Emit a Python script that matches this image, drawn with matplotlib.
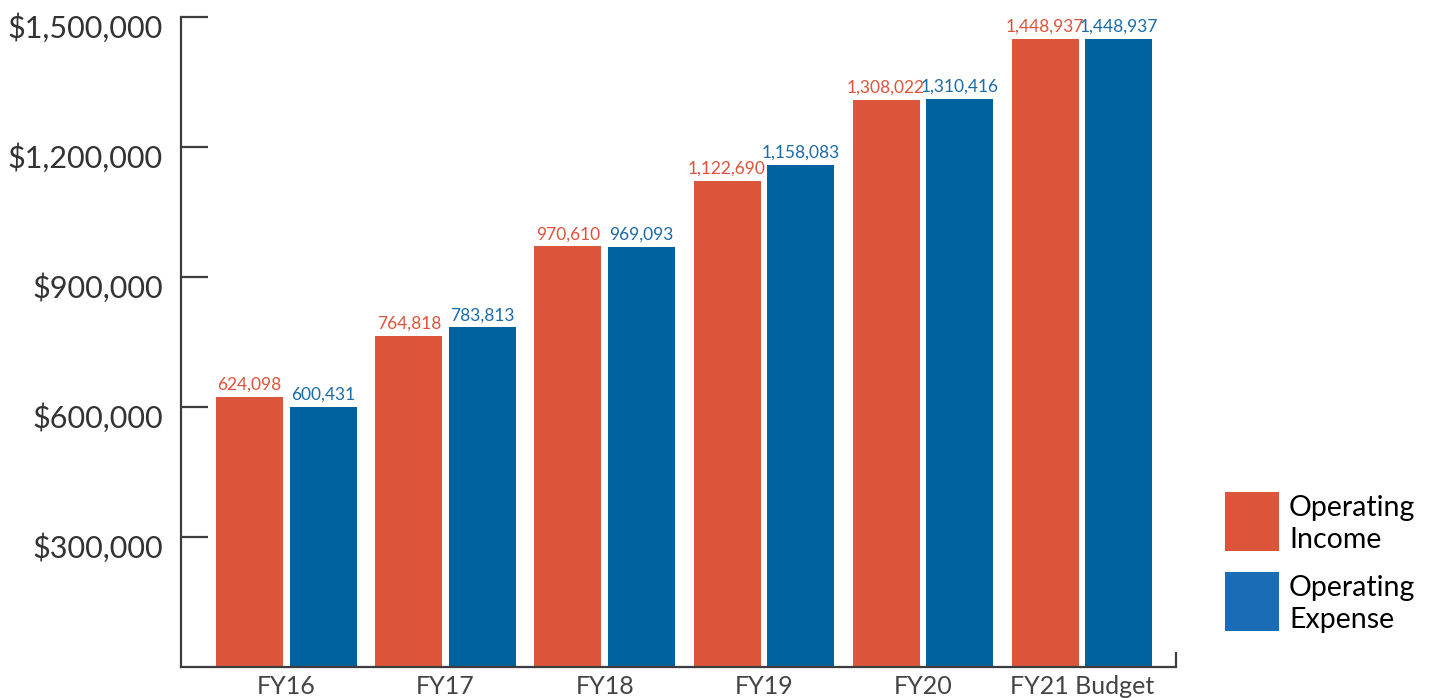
import matplotlib
matplotlib.use("Agg")
import matplotlib.pyplot as plt
from matplotlib.patches import Rectangle
from matplotlib.transforms import ScaledTranslation
import numpy as np

plt.rcParams['font.family'] = ['Lato', 'DejaVu Sans']

categories = ["FY16", "FY17", "FY18", "FY19", "FY20", "FY21 Budget"]
income = [624098, 764818, 970610, 1122690, 1308022, 1448937]
expense = [600431, 783813, 969093, 1158083, 1310416, 1448937]
ytick_values = [300000, 600000, 900000, 1200000, 1500000]
ytick_labels = ["$300,000", "$600,000", "$900,000", "$1,200,000", "$1,500,000"]
series_names = ["Operating\nIncome", "Operating\nExpense"]

ORANGE = "#DC553B"
BLUE = "#00629E"
LEGEND_BLUE = "#1A6CB6"
ORANGE_TXT = "#E0533A"
BLUE_TXT = "#1A6BA8"
AXIS = "#3d3d3d"

W, H = 1434, 698
fig = plt.figure(figsize=(W / 100, H / 100), dpi=100)
ax = fig.add_axes([181 / W, (H - 667) / H, (1176 - 181) / W, 650 / H])

x = np.arange(len(categories))
bw = 0.421
off = 0.231
ax.bar(x - off, income, width=bw, color=ORANGE, zorder=2)
ax.bar(x + off, expense, width=bw, color=BLUE, zorder=2)

for xi, v in zip(x, income):
    ax.annotate(f"{v:,}", (xi - off, v), xytext=(0, 3), textcoords="offset points",
                ha="center", va="bottom", fontsize=12.5, color=ORANGE_TXT)
for xi, v in zip(x, expense):
    ax.annotate(f"{v:,}", (xi + off, v), xytext=(0, 3), textcoords="offset points",
                ha="center", va="bottom", fontsize=12.5, color=BLUE_TXT)

ax.set_xlim(-0.663, 5.591)
ax.set_ylim(0, 1500000)

ax.set_yticks(ytick_values)
ax.set_yticklabels(ytick_labels)
ax.tick_params(axis="y", direction="in", length=19.5, width=1.6, color=AXIS,
               labelsize=22, labelcolor="#333333", pad=13)
# tick labels sit a little below their tick marks
shift = ScaledTranslation(0, -8 / 100, fig.dpi_scale_trans)
for lbl in ax.get_yticklabels():
    lbl.set_transform(lbl.get_transform() + shift)

ax.set_xticks(x)
ax.set_xticklabels(categories)
ax.tick_params(axis="x", length=0, labelsize=18, labelcolor="#444444", pad=6)

for side in ("top", "right"):
    ax.spines[side].set_visible(False)
for side in ("left", "bottom"):
    ax.spines[side].set_color(AXIS)
    ax.spines[side].set_linewidth(1.6)

# small closing tick at the right end of the baseline
ax.plot([1, 1], [0, 0.023], transform=ax.transAxes, color=AXIS, lw=1.6,
        clip_on=False, solid_capstyle="butt")

# legend
def fig_rect(x0, y0, x1, y1, color):
    fig.add_artist(Rectangle((x0 / W, (H - y1) / H), (x1 - x0) / W, (y1 - y0) / H,
                             transform=fig.transFigure, color=color, lw=0))

fig_rect(1225, 492, 1279, 551, ORANGE)
fig_rect(1225, 572, 1279, 631, LEGEND_BLUE)
fig.text(1289 / W, (H - 524) / H, series_names[0], fontsize=20.5, color="black",
         ha="left", va="center", linespacing=1.3)
fig.text(1289 / W, (H - 604) / H, series_names[1], fontsize=20.5, color="black",
         ha="left", va="center", linespacing=1.3)

fig.savefig("out.png", dpi=100)
